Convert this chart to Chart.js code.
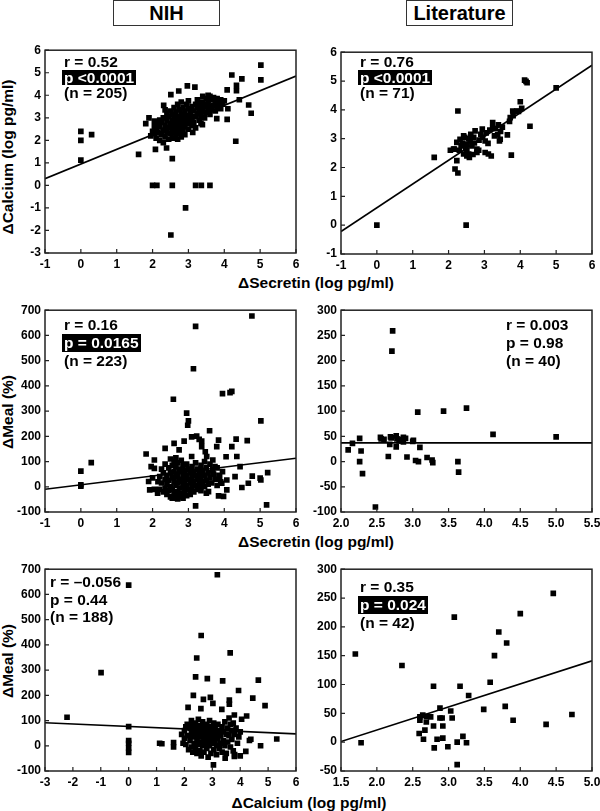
<!DOCTYPE html>
<html><head><meta charset="utf-8">
<script src="https://cdn.jsdelivr.net/npm/chart.js@4/dist/chart.umd.min.js"></script>
<style>
html,body{margin:0;padding:0;background:#fff;width:600px;height:811px;overflow:hidden;position:relative;font-family:"Liberation Sans",Arial,Helvetica,sans-serif;font-weight:bold;color:#000}
canvas{position:absolute}
.title{position:absolute;top:0;height:26px;border:1.5px solid #333;box-sizing:border-box;text-align:center;font-size:20px;line-height:24px}
.xt{position:absolute;font-size:15.5px;white-space:nowrap;transform:translate(-50%,-50%)}
.yt{position:absolute;font-size:15.5px;white-space:nowrap;transform:translate(-50%,-50%) rotate(-90deg)}
.ann{position:absolute;font-size:15.5px;white-space:nowrap}
.ann div{display:block}
.ann .box{display:inline-block;background:#000;color:#fff;padding:0 2px;margin-left:-2px}
</style>
</head><body>
<div class="title" style="left:113px;width:107px">NIH</div>
<div class="title" style="left:406px;width:107px">Literature</div>
<div class="yt" style="left:8px;top:157px">ΔCalcium (log pg/ml)</div>
<div class="yt" style="left:8px;top:412px">ΔMeal (%)</div>
<div class="yt" style="left:8px;top:661px">ΔMeal (%)</div>
<div class="xt" style="left:316px;top:283px">ΔSecretin (log pg/ml)</div>
<div class="xt" style="left:316px;top:542px">ΔSecretin (log pg/ml)</div>
<div class="xt" style="left:309px;top:803px">ΔCalcium (log pg/ml)</div>
<div id="charts"></div>
<script>
// ---------- DATA ----------
const nihSecretinCalcium = [
[0,2.4],[0,2.0],[0,1.12],[0.3,2.25],[1.61,1.38],[1.9,3.0],[2.05,2.85],[1.81,2.74],[2.0,0],[2.12,0],[2.55,0],[2.55,1.19],[3.2,0],[3.36,0],[3.6,0],[2.92,-1.0],[2.51,-2.2],[2.08,1.6],[2.39,1.66],[2.31,3.55],[2.51,4.03],[2.73,4.19],[2.97,4.42],[3.18,4.36],[3.12,2.35],[3.39,2.7],[3.79,2.96],[4.08,2.93],[4.1,3.4],[4.08,4.24],[4.21,4.9],[4.34,4.44],[4.34,4.2],[4.49,4.73],[4.42,3.8],[4.32,1.96],[4.68,3.57],[4.75,3.2],[5.02,5.34],[5.02,4.68],
[1.95,2.2],[2.0,2.4],[2.05,2.3],[2.1,2.1],[2.1,2.5],[2.15,2.35],[2.2,2.0],[2.2,2.6],[2.25,2.25],[2.25,2.8],[2.3,1.9],[2.3,2.45],[2.3,3.0],[2.35,2.15],[2.35,2.65],[2.4,2.35],[2.4,2.9],[2.4,3.2],[2.45,2.05],[2.45,2.55],[2.45,3.05],[2.5,2.3],[2.5,2.75],[2.5,3.3],[2.2,2.9],[2.15,2.7],[2.05,2.6],[2.35,3.35],
[2.55,2.1],[2.55,2.5],[2.55,2.9],[2.55,3.15],[2.6,2.35],[2.6,2.7],[2.6,3.0],[2.6,3.45],[2.65,2.2],[2.65,2.55],[2.65,2.85],[2.65,3.25],[2.7,2.05],[2.7,2.45],[2.7,2.75],[2.7,3.05],[2.7,3.6],[2.75,2.3],[2.75,2.6],[2.75,2.95],[2.75,3.35],[2.8,2.15],[2.8,2.5],[2.8,2.85],[2.8,3.15],[2.8,3.7],[2.85,2.4],[2.85,2.7],[2.85,3.0],[2.85,3.45],[2.9,2.25],[2.9,2.6],[2.9,2.95],[2.9,3.3],[2.95,2.8],[2.95,3.1],[2.95,3.6],[3.0,2.5],[3.0,2.75],[3.0,3.0],[3.0,3.4],[3.0,3.75],[3.05,2.9],[3.05,3.2],[3.1,2.65],[3.1,3.0],[3.1,3.5],[3.15,2.8],[3.15,3.3],[3.2,3.05],[3.2,3.6],[3.2,2.55],
[3.25,3.2],[3.25,3.45],[3.25,3.8],[3.3,2.9],[3.3,3.35],[3.3,3.65],[3.35,3.1],[3.35,3.5],[3.4,3.3],[3.4,3.7],[3.4,3.95],[3.45,3.0],[3.45,3.5],[3.5,3.25],[3.5,3.6],[3.5,3.85],[3.55,3.4],[3.55,3.7],[3.6,3.15],[3.6,3.5],[3.6,3.95],[3.65,3.35],[3.65,3.8],[3.7,3.55],[3.7,3.9],[3.75,3.3],[3.75,3.7],[3.8,3.5],[3.8,3.85],[3.85,3.65],[3.9,3.4],[3.9,3.8],[3.95,3.6],[4.0,3.75],[3.55,4.0],[3.35,2.75]
];
const litSecretinCalcium = [
[0,0],[2.49,0],[1.6,2.35],[2.26,3.96],[2.18,1.95],[2.26,1.81],[2.23,2.24],[2.05,2.6],[2.16,2.64],[4.12,5.03],[4.16,4.99],[4.19,4.94],[5.0,4.76],[4.0,4.28],[4.27,3.43],[4.04,4.05],[3.79,3.96],[3.9,3.96],[3.72,3.73],[3.7,3.6],[3.75,2.43],[3.19,2.4],[3.02,2.52],[2.79,2.52],[2.79,2.64],[3.1,2.84],[3.37,3.13],[3.42,2.92],[3.64,3.13],[3.23,3.56],[3.23,3.38],[3.39,3.48],[2.94,3.33],[2.74,3.27],[2.51,2.4],[2.56,2.47],[2.42,3.1],[2.32,2.98],[2.23,2.87],[2.14,2.64],[2.51,2.81],[2.6,2.92],[2.42,2.47],[2.51,2.58],[2.84,2.6],[3.02,2.92],[3.11,2.47],[3.44,2.98],[2.7,3.05],[2.62,3.15],[2.45,3.05],[2.35,2.75],[2.55,3.0],[2.65,2.75],[2.85,2.95],[2.9,3.15],[2.95,3.05],[3.05,3.2],[3.15,3.3],[2.58,2.35],[2.3,2.6],[2.72,2.85],[3.3,3.35],[3.5,3.4],[3.8,3.8],[3.95,3.95],[3.45,3.25],[2.48,2.68],[2.68,2.45],[2.38,2.85],[3.28,3.1]
];
const nihSecretinMeal = [
[0,62],[0,8],[0,2],[0.29,96],[3.2,636],[3.14,468],[2.58,347],[2.95,292],[3.0,261],[2.98,244],[3.95,369],[4.16,373],[4.21,378],[4.77,677],[5.02,261],[5.18,-72],[3.2,-76],[5.0,34],[5.02,27],[5.21,56],[4.78,42],[4.67,14],[4.49,-3],[4.64,183],[4.33,189],[4.21,159],[4.35,120],[4.3,40],[4.44,80],[4.05,119],[4.07,27],[4.07,-12],[3.98,-38],[3.84,-36],[3.59,222],[3.84,185],[3.79,159],[3.23,201],[3.3,188],[3.37,181],[3.09,198],[2.88,181],[2.6,172],[2.35,152],[2.74,146],[1.82,130],[2.05,106],[1.96,80],[2.05,73],[1.92,-12],[2.14,-25],[1.89,21],[3.68,67],[3.51,120],[3.47,139],[3.37,159],[3.09,120],[3.68,106],[3.74,80],[3.87,40],[3.93,14],[3.56,-19],[3.33,-5],
[2.2,40],[2.2,-10],[2.25,70],[2.25,15],[2.3,-20],[2.3,55],[2.35,30],[2.35,90],[2.35,-5],[2.4,45],[2.4,10],[2.4,-30],[2.45,75],[2.45,25],[2.45,-15],[2.5,110],[2.5,55],[2.5,0],[2.5,-40],[2.55,85],[2.55,35],[2.55,-10],[2.55,-45],[2.6,100],[2.6,60],[2.6,20],[2.6,-25],[2.65,115],[2.65,80],[2.65,40],[2.65,5],[2.65,-35],[2.7,95],[2.7,50],[2.7,15],[2.7,-20],[2.7,-48],[2.75,70],[2.75,30],[2.75,-5],[2.75,-40],[2.8,105],[2.8,60],[2.8,20],[2.8,-25],[2.85,85],[2.85,40],[2.85,0],[2.85,-45],[2.9,65],[2.9,25],[2.9,-15],[2.95,90],[2.95,45],[2.95,5],[2.95,-35],[3.0,70],[3.0,30],[3.0,-10],[3.05,55],[3.05,15],[3.05,-30],[3.1,80],[3.1,35],[3.1,0],[3.15,60],[3.15,20],[3.15,-20],[3.2,95],[3.2,45],[3.2,5],[3.25,70],[3.25,30],[3.25,-10],[3.3,50],[3.3,10],[3.35,85],[3.35,35],[3.35,-15],[3.4,65],[3.4,20],[3.45,100],[3.45,45],[3.45,0],[3.5,75],[3.5,25],[3.5,-25],[3.55,55],[3.55,10],[3.6,90],[3.6,35],[3.65,15],[3.7,50],[3.75,30],[3.8,5],[3.85,45],[3.9,20],[3.95,60],[2.15,20],[2.0,35],[2.05,-10],[3.8,75]
];
const litSecretinMeal = [
[2.1,23],[2.16,36],[2.26,46],[2.26,0],[2.28,21],[2.3,-24],[2.48,-90],[2.55,48],[2.56,45],[2.69,49],[2.68,34],[2.66,10],[2.71,219],[2.72,259],[2.77,51],[2.77,29],[2.81,41],[2.87,48],[2.87,39],[2.9,46],[2.92,9],[3.01,42],[3.04,2],[3.07,98],[3.08,0],[3.1,28],[3.2,8],[3.27,3],[3.28,-2],[3.43,100],[3.63,0],[3.64,-21],[3.75,106],[4.12,54],[5.0,49],[2.78,45],[2.7,47],[2.85,44],[3.0,40],[2.6,44]
];
const nihCalciumMeal = [
[-2.21,113],[-0.99,290],[0,637],[0,76],[0,21],[0,10],[0,-9],[0,-26],[3.18,678],[2.6,437],[3.64,368],[2.44,348],[2.4,273],[2.82,266],[3.37,257],[4.65,260],[3.94,219],[4.45,189],[4.89,159],[2.32,200],[2.13,152],[2.68,184],[2.93,192],[3.02,168],[2.59,147],[3.34,144],[3.61,181],[3.61,165],[4.23,118],[4.05,105],[3.79,122],[1.11,10],[1.19,8],[1.61,13],[1.61,-5],[5.31,27],[4.73,0],[4.38,26],[4.33,21],[4.2,-22],[4.0,-40],[3.79,-42],[3.46,-49],[3.04,-76],
[2.0,30],[2.0,60],[2.05,5],[2.1,85],[2.1,40],[2.15,-15],[2.2,70],[2.2,20],[2.25,100],[2.25,50],[2.25,-5],[2.3,80],[2.3,35],[2.3,-25],[2.35,60],[2.35,10],[2.4,90],[2.4,45],[2.4,-10],[2.45,70],[2.45,25],[2.45,-30],[2.5,105],[2.5,55],[2.5,5],[2.55,80],[2.55,35],[2.55,-20],[2.6,65],[2.6,15],[2.6,-40],[2.65,95],[2.65,45],[2.65,0],[2.7,75],[2.7,30],[2.7,-25],[2.75,55],[2.75,10],[2.8,85],[2.8,40],[2.8,-10],[2.85,65],[2.85,20],[2.85,-45],[2.9,100],[2.9,50],[2.9,0],[2.95,75],[2.95,30],[2.95,-30],[3.0,60],[3.0,10],[3.05,90],[3.05,40],[3.05,-15],[3.1,70],[3.1,20],[3.15,50],[3.15,0],[3.15,-35],[3.2,85],[3.2,30],[3.25,60],[3.25,-10],[3.3,40],[3.3,10],[3.35,75],[3.35,-25],[3.4,55],[3.4,20],[3.45,95],[3.45,0],[3.5,45],[3.5,-30],[3.55,70],[3.55,15],[3.6,110],[3.6,40],[3.65,-5],[3.7,60],[3.7,25],[3.75,90],[3.75,-20],[3.8,45],[3.85,70],[3.9,10],[3.95,35],[4.0,55],[1.9,45],[1.95,10],[2.05,75],[3.65,85],[3.8,-35]
];
const litCalciumMeal = [
[1.7,153],[1.78,-1],[2.35,133],[2.79,97],[2.6,44],[2.6,38],[2.64,47],[2.69,45],[2.69,35],[2.75,44],[2.59,15],[2.67,21],[2.65,5],[2.79,28],[2.8,-10],[2.84,5],[2.88,59],[2.88,42],[2.91,42],[2.92,28],[2.92,7],[2.99,-8],[3.03,54],[3.05,42],[3.08,217],[3.12,0],[3.12,-39],[3.16,97],[3.2,10],[3.25,-1],[3.28,81],[3.49,57],[3.58,104],[3.64,150],[3.7,191],[3.81,172],[3.79,62],[3.9,38],[4.0,223],[4.36,31],[4.46,258],[4.72,48]
];
// regression line end points
const lineNihSecCal = [[-1,0.3],[6,4.85]];
const lineLitSecCal = [[-1,-0.22],[6,5.55]];
const lineNihSecMeal = [[-1,-10],[6,113]];
const lineLitSecMeal = [[2.0,37],[5.5,37]];
const lineNihCalMeal = [[-3,91],[6,47]];
const lineLitCalMeal = [[1.5,1],[5.0,141]];
// axis ranges [min, max, step]
const xSecretinNih = [-1,6,1], ySecretinCalcium = [-3,6,1];
const xSecretinLit = [-1,6,1], yLitCalcium = [-1,6,1];
const yMealNih = [-100,700,100];
const xSecretinLitMeal = [2.0,5.5,0.5], yMealLit = [-100,300,50];
const xCalciumNih = [-3,6,1];
const xCalciumLit = [1.5,5.0,0.5], yMealLit2 = [-50,300,50];
// annotation texts
const annNihSecCal = ['r = 0.52','p <0.0001','(n = 205)'];
const annLitSecCal = ['r = 0.76','p <0.0001','(n = 71)'];
const annNihSecMeal = ['r = 0.16','p = 0.0165','(n = 223)'];
const annLitSecMeal = ['r = 0.003','p = 0.98','(n = 40)'];
const annNihCalMeal = ['r = \u20130.056','p = 0.44','(n = 188)'];
const annLitCalMeal = ['r = 0.35','p = 0.024','(n = 42)'];

// ---------- DRAWING ----------
const FONT = '"Liberation Sans", Arial, Helvetica, sans-serif';
const frameTicks = {
  id:'frameTicks',
  afterDatasetsDraw(chart){
    const {ctx, chartArea:a, scales:{x,y}} = chart;
    ctx.save();
    ctx.strokeStyle='#222'; ctx.lineWidth=1.5;
    ctx.strokeRect(a.left, a.top, a.right-a.left, a.bottom-a.top);
    ctx.lineWidth=1.2;
    ctx.beginPath();
    x.ticks.forEach(t=>{const px=x.getPixelForValue(t.value); ctx.moveTo(px,a.bottom); ctx.lineTo(px,a.bottom-4);});
    y.ticks.forEach(t=>{const py=y.getPixelForValue(t.value); ctx.moveTo(a.left,py); ctx.lineTo(a.left+4,py);});
    ctx.stroke(); ctx.restore();
  }
};
function axis(range, decimals, horiz){
  return {
    type:'linear', min:range[0], max:range[1],
    afterFit: s=>{ if(horiz) s.height=22; else s.width=40; },
    grid:{display:false, drawTicks:false}, border:{display:false},
    ticks:{stepSize:range[2], autoSkip:false, maxRotation:0, minRotation:0, padding:horiz?4:4,
      color:'#000', font:{family:FONT, size:12, weight:'bold'},
      callback:v=> decimals ? Number(v).toFixed(decimals) : String(Math.round(v))}
  };
}
function panel(rect, pts, line, xr, xd, yr, ann, annPos){
  const L=40, T=10, R=14, B=22;
  const c=document.createElement('canvas');
  const w=(rect.r-rect.l)+L+R, h=(rect.b-rect.t)+T+B;
  c.width=w; c.height=h;
  c.style.left=(rect.l-L)+'px'; c.style.top=(rect.t-T)+'px';
  c.style.width=w+'px'; c.style.height=h+'px';
  document.getElementById('charts').appendChild(c);
  new Chart(c,{
    type:'scatter',
    data:{datasets:[
      {data:pts.map(p=>({x:p[0],y:p[1]})), pointStyle:'rect', pointRadius:4, backgroundColor:'#000', borderWidth:0, order:2},
      {type:'line', data:line.map(p=>({x:p[0],y:p[1]})), borderColor:'#000', borderWidth:1.6, pointRadius:0, fill:false, order:1}
    ]},
    options:{
      responsive:false, animation:false, devicePixelRatio:1,
      layout:{padding:{left:0,top:T,right:R,bottom:0}},
      plugins:{legend:{display:false}, tooltip:{enabled:false}},
      scales:{x:axis(xr,xd,true), y:axis(yr,0,false)}
    },
    plugins:[frameTicks]
  });
  const d=document.createElement('div');
  d.className='ann';
  d.style.left=annPos.x+'px'; d.style.top=annPos.y+'px';
  ann.forEach((t,i)=>{
    const row=document.createElement('div');
    row.style.height=annPos.lh+'px'; row.style.lineHeight=annPos.lh+'px';
    if(i===1 && annPos.box){ const s=document.createElement('span'); s.className='box'; s.textContent=t; row.appendChild(s);} else row.textContent=t;
    d.appendChild(row);
  });
  document.body.appendChild(d);
}
panel({l:45,t:49,r:296,b:253}, nihSecretinCalcium, lineNihSecCal, xSecretinNih,0, ySecretinCalcium, annNihSecCal, {x:64,y:54,lh:15.5,box:true});
panel({l:341,t:51,r:592,b:254}, litSecretinCalcium, lineLitSecCal, xSecretinLit,0, yLitCalcium, annLitSecCal, {x:360,y:54,lh:15.5,box:true});
panel({l:45,t:309,r:296,b:512}, nihSecretinMeal, lineNihSecMeal, xSecretinNih,0, yMealNih, annNihSecMeal, {x:64,y:316,lh:18,box:true});
panel({l:341,t:309,r:592,b:512}, litSecretinMeal, lineLitSecMeal, xSecretinLitMeal,1, yMealLit, annLitSecMeal, {x:506,y:316,lh:18,box:false});
panel({l:45,t:568,r:296,b:771}, nihCalciumMeal, lineNihCalMeal, xCalciumNih,0, yMealNih, annNihCalMeal, {x:50,y:573,lh:17.7,box:false});
panel({l:341,t:568,r:592,b:771}, litCalciumMeal, lineLitCalMeal, xCalciumLit,1, yMealLit2, annLitCalMeal, {x:360,y:578,lh:18,box:true});
</script>
</body></html>
